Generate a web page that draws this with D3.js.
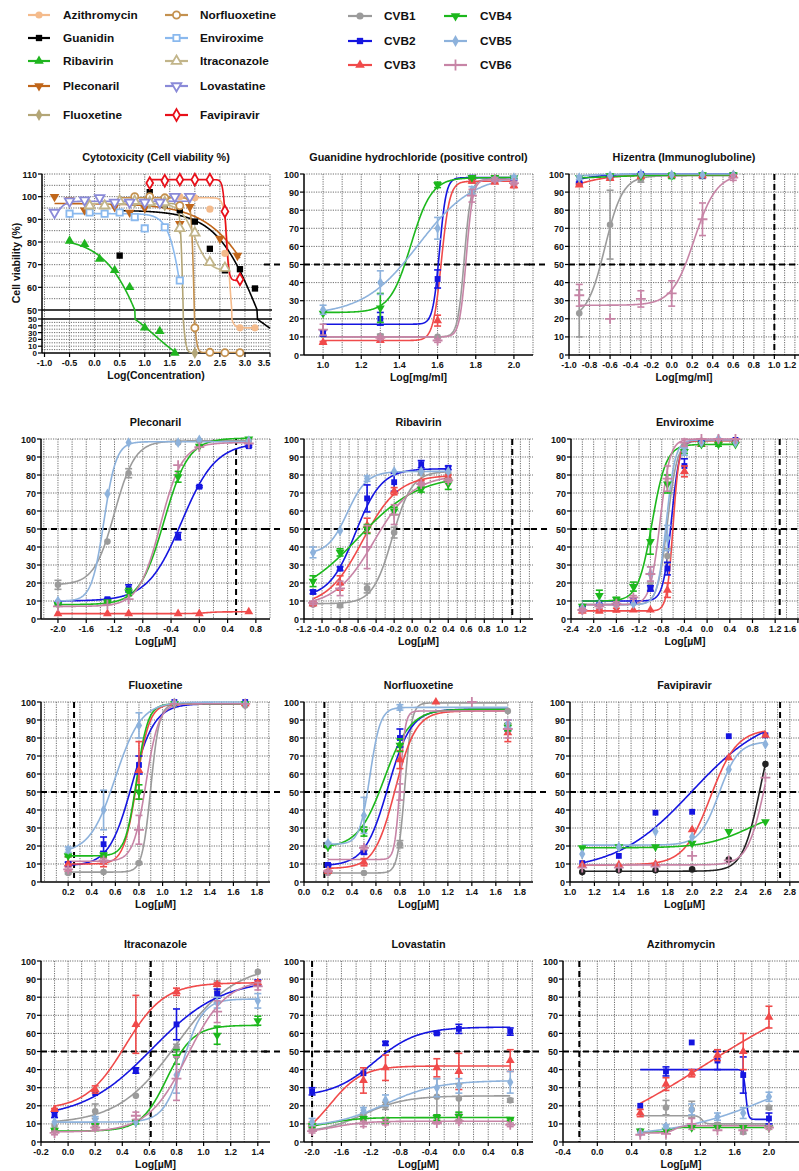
<!DOCTYPE html>
<html>
<head>
<meta charset="utf-8">
<title>Antiviral screening</title>
<script src="https://cdn.jsdelivr.net/npm/d3@7"></script>
<style>
  body { margin: 0; background: #fff; }
  svg text { font-family: "Liberation Sans", Arial, sans-serif; font-weight: bold; fill: #111; }
</style>
</head>
<body>
<svg id="chart" width="799" height="1171"></svg>
<script>
// ---------- series definitions ----------
const viruses = ["CVB1", "CVB2", "CVB3", "CVB4", "CVB5", "CVB6"];
const virusColors = ["#9b9b9b", "#1515e0", "#f04a4a", "#1cb81c", "#8db2dc", "#c784a6"];
const virusShapes = ["circle", "square", "triangle", "triangleDown", "diamond", "plus"];

const drugs = ["Azithromycin", "Guanidin", "Ribavirin", "Pleconaril", "Fluoxetine",
               "Norfluoxetine", "Enviroxime", "Itraconazole", "Lovastatine", "Favipiravir"];
const drugColors = ["#f4bb8c", "#000000", "#1fb51f", "#c0661a", "#b3a677",
                    "#c4914f", "#8ab9ee", "#c2b58a", "#8a8ad8", "#e8101a"];
const drugShapes = ["circle", "square", "triangle", "triangleDown", "diamond",
                    "circle", "square", "triangle", "triangleDown", "diamond"];
const drugHollow = [false, false, false, false, false, true, true, true, true, true];

// ---------- cytotoxicity panel (one series per drug) ----------
const cytoX = [
  [1.7, 2.0, 2.3, 2.6, 2.9, 3.2],
  [0.5, 1.1, 1.4, 1.7, 2.0, 2.3, 2.6, 2.9, 3.2],
  [-0.5, -0.2, 0.1, 0.4, 0.7, 1.0, 1.3, 1.6],
  [-0.8, -0.5, -0.2, 0.4, 0.7, 1.0, 1.7, 1.9, 2.5, 2.85],
  [0.8, 1.1, 1.4, 1.7, 2.0],
  [0.8, 1.1, 1.4, 1.7, 2.0, 2.3, 2.6, 2.9],
  [-0.5, -0.1, 0.2, 0.5, 0.8, 1.0, 1.4, 1.7],
  [-0.1, 0.2, 0.5, 0.8, 1.1, 1.4, 1.7, 2.0, 2.3, 2.6],
  [-0.8, -0.5, -0.2, 0.1, 0.4, 0.7, 1.0, 1.3, 1.6, 1.9],
  [1.1, 1.4, 1.7, 2.0, 2.3, 2.6, 2.9]
];
const cytoY = [
  [100, 99.5, 94.5, 75, 37, 37],
  [74, 102, 96.5, 94, 89, 77, 67.5, 68, 59.5],
  [80.5, 79, 72.5, 67.5, 60, 37, 32, 0],
  [100, 98.5, 94, 95.5, 93, 95, 88, 95.5, 81.5, 74],
  [97.5, 97, 96, 86, 0],
  [100, 100, 99.5, 96, 37, 1, 0.5, 0.5],
  [92.5, 93, 92.5, 93, 91, 86, 86.5, 63],
  [96, 96, 98, 98, 97.5, 97.5, 86, 84, 71, 68.5],
  [93, 98, 98.5, 99.5, 97.5, 97.5, 97.5, 97.5, 100, 100],
  [106, 107, 107.5, 107.5, 107.5, 93.5, 63.5]
];
// fit: [value at low x, value at high x, logEC50, hill slope]
const cytoFit = [
  [99.5, 37, 2.68, 10],
  [94, 0, 3.3, 1],
  [82, -30, 1.2, 1],
  [97, 0, 3.5, 0.8],
  [97, 0, 1.77, 15],
  [99.5, 0.5, 1.99, 15],
  [92.5, 0, 1.8, 3],
  [97, 67, 2.0, 3],
  [88, 98, -0.75, 5],
  [107.5, 63, 2.62, 15]
];
const cytoSpan = [[1.65, 3.2], [0.5, 3.5], [-0.5, 1.6], [-0.8, 2.9], [0.4, 2.0],
                  [0.5, 2.9], [-0.5, 1.7], [-0.2, 2.6], [-0.8, 1.9], [1.1, 2.9]];

// ---------- Guanidine hydrochloride ----------
const guanX = [1.0, 1.3, 1.6, 1.78, 1.9, 2.0];
const guanY = [
  [11, 10.5, 10, 90, 97, 97],
  [12, 20, 42, 98, 97.5, 97],
  [7, 8, 19, 96, 95.5, 93.5],
  [23, 26, 94, 98, 98, 98],
  [25, 40, 70, 91, 97, 98],
  [14, 9.5, 8, 88, 97, 95]
];
const guanErr = [
  [0, 1, 0, 0, 0, 0],
  [1.5, 3.5, 5, 1, 0.5, 0.5],
  [0.5, 0.5, 3, 1, 0.5, 1],
  [0, 8, 1.5, 0.5, 0.5, 0.5],
  [2.5, 6.5, 6, 2, 1, 1],
  [3, 1, 1, 3.5, 1, 1]
];
const guanFit = [[10, 97, 1.74, 25], [17, 98, 1.61, 25], [8, 96, 1.62, 20],
                 [23.5, 98, 1.46, 8], [22, 100, 1.5, 3], [10, 97, 1.75, 25]];

// ---------- Hizentra ----------
const hizX = [-0.9, -0.6, -0.3, 0.0, 0.3, 0.6];
const hizY = [
  [23, 72, 97, 99, 99, 99.5],
  [95, 98.5, 100, 99, 99, 99.5],
  [94, 97.5, 98.5, 99, 99, 99.5],
  [98, 99, 99, 99, 99.5, 99.5],
  [98, 99, 100, 99.5, 99.5, 99.5],
  [33, 20, 31, 34, 75, 98]
];
const hizErr = [
  [13, 19, 1.5, 0.5, 1.5, 0.5],
  [0.5, 0.5, 0.5, 0.5, 0.5, 0.5],
  [0.5, 0.5, 0.5, 0.5, 0.5, 0.5],
  [0, 0, 0, 1.5, 0, 0],
  [1, 0, 0, 0, 0, 0],
  [6, 0, 4.5, 7, 9, 1.5]
];
const hizFit = [[20, 99, -0.65, 5], [88, 100, -1.1, 2.5], [88, 99.5, -0.95, 2.5],
                [97.5, 99.5, -0.6, 2], [97, 100, -1.0, 3], [27.5, 100, 0.22, 4]];

// ---------- Pleconaril ----------
const plecX = [-2.0, -1.3, -1.0, -0.3, 0.0, 0.7];
const plecY = [
  [19, 43, 81, 98, 99, 99],
  [9, 11, 17, 46, 73.5, 96],
  [3, 3, 3, 3, 3, 4],
  [8, 9.5, 15, 79, 96, 100],
  [10, 69.5, 98, 98, 99.5, 99],
  [7, 8, 11, 85.5, 95.5, 97.5]
];
const plecErr = [
  [2.5, 0, 2.5, 0, 0, 0],
  [0.5, 0.5, 2, 2, 0.5, 0.5],
  [0, 0, 0, 0, 0, 0],
  [0.5, 0.5, 2, 3, 0.5, 0],
  [0, 0, 0, 0, 0, 0],
  [0, 0, 0, 0, 0, 0]
];
const plecFit = [[19, 99, -1.2, 3], [10, 98, -0.25, 1.8], [3, 4, 0.1, 5],
                 [8, 100.5, -0.5, 2.5], [10, 98.5, -1.35, 5], [7, 98, -0.55, 2.8]];

// ---------- Ribavirin ----------
const ribaX = [-1.1, -0.8, -0.5, -0.2, 0.1, 0.4];
const ribaY = [
  [8, 7.5, 17, 48, 81, 81],
  [15, 28, 67, 76, 86, 84],
  [8.5, 20, 52, 71, 76, 79],
  [21, 37, 50, 60, 72, 75],
  [37, 49, 78, 82, 82, 82],
  [9, 17, 40, 58, 75, 77]
];
const ribaErr = [
  [0.5, 1, 2.5, 3, 1, 0],
  [1, 1, 7.5, 5, 2, 1],
  [1, 4, 4, 2, 1, 1],
  [3, 2, 2.5, 2, 1.5, 3],
  [3, 0, 1.5, 0, 0, 0],
  [1, 4, 12, 5.5, 1, 1]
];
const ribaFit = [[8.5, 82, -0.22, 4], [12, 83.5, -0.63, 3], [7, 80, -0.55, 2.2],
                 [10, 80, -0.6, 1.3], [36, 82, -0.72, 4], [7, 80, -0.42, 2]];

// ---------- Enviroxime ----------
const enviX = [-2.2, -1.9, -1.6, -1.3, -1.0, -0.7, -0.4, -0.1, 0.2, 0.5];
const enviY = [
  [7, 8, 8, 9, 18, 35, 96, 99, 99, 99],
  [6, 9, 9, 10, 17, 28, 85, 98, 99, 99.5],
  [4.5, 4.5, 5, 5, 5, 16, 82, 97, 99, 99],
  [7, 13, 11, 18, 43, 75, 93, 97, 97, 97],
  [6, 8, 8, 8.5, 25, 45, 93, 98, 100, 98],
  [5, 7, 8.5, 12, 25, 78, 98, 100, 100, 100]
];
const enviErr = [
  [0, 0, 0, 0, 2, 4, 1, 0, 0, 0],
  [1, 1, 1, 1, 1.5, 3.5, 4, 0.5, 0, 0],
  [1, 1, 1, 0, 0, 4, 3, 0, 0, 0],
  [0, 3, 1, 2.5, 7, 5, 1, 1, 1, 0],
  [0, 0, 0, 0, 4, 7, 2, 0, 0, 0],
  [1, 1, 1, 1, 4, 7, 2, 0, 0, 0]
];
const enviFit = [[8, 99, -0.7, 5], [10, 99.5, -0.63, 6], [4.5, 99, -0.6, 8],
                 [10, 97, -0.97, 3.5], [8, 99.5, -0.72, 5.5], [8, 100, -0.83, 5]];

// ---------- Fluoxetine ----------
const fluoX = [0.2, 0.5, 0.8, 1.1, 1.7];
const fluoY = [
  [5, 5.5, 10.5, 99, 98],
  [10, 21, 65, 100, 100],
  [10, 11, 62, 99.5, 99],
  [14.5, 15, 50, 99, 99],
  [18, 40, 87, 99.5, 99],
  [7, 12, 29, 99, 99]
];
const fluoErr = [
  [0.5, 0, 0.5, 0, 0],
  [1, 4, 5, 0, 0],
  [4, 2.5, 16, 0, 0],
  [0.5, 1, 4, 0, 0],
  [1.5, 11, 7, 0, 0],
  [1, 1, 8, 0, 0]
];
const fluoFit = [[5.5, 99, 0.9, 12], [9, 99, 0.74, 4.5], [10, 99, 0.78, 8],
                 [14.5, 99, 0.78, 9], [16, 100, 0.6, 4], [11.5, 99, 0.86, 8]];

// ---------- Norfluoxetine ----------
const norfX = [0.2, 0.5, 0.8, 1.1, 1.4, 1.7];
const norfY = [
  [5, 5, 21, null, null, 95],
  [9.5, 16.5, 80, null, null, 87],
  [6, 11, 68, 100, null, 83],
  [19.5, 28, 76, null, null, 86],
  [21.5, 37, 97, null, null, 88],
  [6, 19, 50, null, 100, 85]
];
const norfErr = [
  [0, 0, 2, 0, 0, 0],
  [0.5, 1, 5, 0, 0, 3],
  [0.5, 2, 5, 0, 0, 5],
  [0.5, 2.5, 3.5, 0, 0, 2],
  [0.5, 10, 1.5, 0, 0, 2],
  [0.5, 1, 4.5, 0, 0, 5]
];
const norfFit = [[5, 99.5, 0.84, 15], [9, 96, 0.7, 4.5], [7.5, 95, 0.76, 5],
                 [19, 96, 0.67, 4], [21, 97, 0.55, 10], [12.5, 95, 0.8, 20]];

// ---------- Favipiravir ----------
const faviX = [1.1, 1.4, 1.7, 2.0, 2.3, 2.6];
const faviY = [
  [5.5, 6.5, 6.5, 7, 12.5, 65.5],
  [10.5, 14.5, 38.5, 39, 81, 81.5],
  [9.5, 9.5, 10, 29, 69, 81.5],
  [19, 19.5, 19.5, 21.5, 28, 33.5],
  [15.5, 19.5, 28, 25, 62.5, 76.5],
  [8, 8, 8.5, 14.5, 12, 58]
];
const faviFit = [[6, 100, 2.56, 6], [6, 95, 2.0, 1.4], [9.5, 85, 2.15, 4],
                 [19, 40, 2.45, 2.5], [20.5, 78, 2.22, 5.5], [9.5, 100, 2.6, 6]];

// ---------- Itraconazole ----------
const itraX = [-0.1, 0.2, 0.5, 0.8, 1.1, 1.4];
const itraY = [
  [9, 17, 25.5, 52, 83, 94],
  [15, 27, 39.5, 65, 82, 88],
  [18, 29, 65, 83, 87, 88],
  [6.5, 9, 11, 47, 59, 67],
  [11, 12.5, 11, 37, 77, 78],
  [5, 8, 14.5, 35, 72, 86]
];
const itraErr = [
  [0, 4, 0, 2, 6, 0],
  [1.5, 0, 1.5, 8.5, 2.5, 1.5],
  [0.5, 2, 16, 2, 1, 1],
  [0.5, 1, 1, 4, 5, 2.5],
  [0, 1.5, 0, 10, 3, 4],
  [1, 1, 2, 12, 6, 2]
];
const itraFit = [[10, 98, 0.8, 2], [13, 90, 0.62, 1.7], [18, 88, 0.42, 3],
                 [6, 64.5, 0.73, 4.5], [11, 79, 0.85, 6], [5.5, 90, 0.88, 3]];

// ---------- Lovastatin ----------
const lovaX = [-2.0, -1.3, -1.0, -0.3, 0.0, 0.7];
const lovaY = [
  [7, 15, 20, 25, 24, 23],
  [28, 38, 54.5, 60, 62.5, 61],
  [10, 34, 41, 41, 39, 45],
  [9, 13, 12, 13.5, 14, 12.5],
  [11, 17.5, 23, 30, 31, 33],
  [6, 10, 11, 10.5, 11.5, 9.5]
];
const lovaErr = [
  [1, 1, 2, 10, 8, 1],
  [2, 0, 1, 0.5, 2.5, 2],
  [1, 7, 7, 5, 10, 6],
  [1, 1, 1.5, 1.5, 2.5, 0.5],
  [2, 1.5, 3, 5, 4, 6],
  [1, 1.5, 1.5, 0.5, 1, 1]
];
const lovaFit = [[5, 25.5, -1.3, 1.5], [25, 63.5, -1.15, 1.5], [0, 42, -1.75, 2],
                 [7, 13.5, -1.8, 2], [8, 34, -1.0, 1.2], [5, 11.5, -1.7, 2]];

// ---------- Azithromycin ----------
const aziX = [0.5, 0.8, 1.1, 1.4, 1.7, 2.0];
const aziY = [
  [6, 19, 18, 9.5, 5.5, 19],
  [20, 39, 55, 45, 37, 13],
  [16, 32, 38, 48, 50, 69],
  [6, 6.5, 8, 8, 8, 8],
  [5, 8.5, 18, 14, 16, 25],
  [4, 4.5, 10, 6.5, 6.5, 8]
];
const aziErr = [
  [0, 4, 4.5, 1, 1, 1],
  [0, 2.5, 0, 5, 10, 3],
  [2, 3.5, 2, 3, 10, 6],
  [0, 0, 0, 0, 0, 0],
  [0, 1, 3, 2, 3, 2.5],
  [0, 0, 3, 0, 0, 1]
];
const aziFit = [[14.5, 10, 1.22, 20], [40, 12.5, 1.73, 30], [-9.5, 94.5, 1.25, 0.5],
                [5.5, 8, 0.85, 15], [3, 45, 2.0, 0.8], [5, 9, 0.9, 10]];

// ---------- layout ----------
const rows = [{top: 174, bottom: 355}, {top: 439, bottom: 619}, {top: 702, bottom: 882}, {top: 961, bottom: 1142}];
const cols = [[41, 270], [304, 533], [570, 799]];

const panels = [
  {title: "Guanidine hydrochloride (positive control)", row: 0, col: 1, domain: [0.9, 2.1], tick: [1.0, 2.0, 0.2], minor: 0.1,
   xLabel: "Log[mg/ml]", vline: null, x: guanX, y: guanY, err: guanErr, fit: guanFit},
  {title: "Hizentra (Immunogluboline)", row: 0, col: 2, range: [569, 799], domain: [-1.0, 1.24], tick: [-1.0, 1.2, 0.2], minor: 0.1,
   xLabel: "Log[mg/ml]", vline: 1.0, x: hizX, y: hizY, err: hizErr, fit: hizFit},
  {title: "Pleconaril", row: 1, col: 0, domain: [-2.24, 1.0], tick: [-2.0, 0.8, 0.4], minor: 0.2,
   xLabel: "Log[µM]", vline: 0.52, x: plecX, y: plecY, err: plecErr, fit: plecFit},
  {title: "Ribavirin", row: 1, col: 1, domain: [-1.2, 1.34], tick: [-1.2, 1.2, 0.2], minor: 0.1,
   xLabel: "Log[µM]", vline: 1.11, x: ribaX, y: ribaY, err: ribaErr, fit: ribaFit},
  {title: "Enviroxime", row: 1, col: 2, range: [571, 799], domain: [-2.4, 1.62], tick: [-2.4, 1.6, 0.4], minor: 0.2,
   xLabel: "Log[µM]", vline: 1.28, x: enviX, y: enviY, err: enviErr, fit: enviFit},
  {title: "Fluoxetine", row: 2, col: 0, domain: [-0.03, 1.91], tick: [0.2, 1.8, 0.2], minor: 0.1,
   xLabel: "Log[µM]", vline: 0.25, x: fluoX, y: fluoY, err: fluoErr, fit: fluoFit},
  {title: "Norfluoxetine", row: 2, col: 1, domain: [0, 1.91], tick: [0.0, 1.8, 0.2], minor: 0.1,
   xLabel: "Log[µM]", vline: 0.17, x: norfX, y: norfY, err: norfErr, fit: norfFit},
  {title: "Favipiravir", row: 2, col: 2, domain: [1.0, 2.875], tick: [1.0, 2.8, 0.2], minor: 0.1,
   xLabel: "Log[µM]", vline: 2.72, x: faviX, y: faviY, err: null, fit: faviFit, override: {0: "#222222"}},
  {title: "Itraconazole", row: 3, col: 0, domain: [-0.2, 1.49], tick: [-0.2, 1.4, 0.2], minor: 0.1,
   xLabel: "Log[µM]", vline: 0.61, x: itraX, y: itraY, err: itraErr, fit: itraFit},
  {title: "Lovastatin", row: 3, col: 1, domain: [-2.11, 1.01], tick: [-2.0, 0.8, 0.4], minor: 0.2,
   xLabel: "Log[µM]", vline: -2.0, x: lovaX, y: lovaY, err: lovaErr, fit: lovaFit},
  {title: "Azithromycin", row: 3, col: 2, range: [563, 799], domain: [-0.4, 2.35], tick: [-0.4, 2.0, 0.4], minor: 0.2,
   xLabel: "Log[µM]", vline: -0.21, x: aziX, y: aziY, err: aziErr, fit: aziFit}
];

// ---------- helpers ----------
const svg = d3.select("#chart");
const shapeMap = {
  circle: d3.symbolCircle, square: d3.symbolSquare, triangle: d3.symbolTriangle,
  triangleDown: d3.symbolTriangle, diamond: d3.symbolDiamond, plus: d3.symbolPlus || d3.symbolCross
};
function logistic(p, x) { return p[0] + (p[1] - p[0]) / (1 + Math.pow(10, (p[2] - x) * p[3])); }
function fmt(v) { return (Math.round(v * 10) / 10).toFixed(1); }
function stepRange(a, b, s) {
  const out = [];
  const k0 = Math.ceil(a / s - 1e-6), k1 = Math.floor(b / s + 1e-6);
  for (let k = k0; k <= k1; k++) out.push(+(k * s).toFixed(6));
  return out;
}
function marker(g, shape, px, py, color, hollow, size) {
  const path = g.append("path")
    .attr("d", d3.symbol().type(shapeMap[shape]).size(size || 30)())
    .attr("transform", "translate(" + px + "," + py + ")" + (shape === "triangleDown" ? " rotate(180)" : ""));
  if (shape === "plus") {
    path.attr("fill", "none").attr("stroke", color).attr("stroke-width", 1.8);
  } else if (hollow) {
    path.attr("fill", "#fff").attr("stroke", color).attr("stroke-width", 1.8);
  } else {
    path.attr("fill", color);
  }
}
function hline(g, x1, x2, yy, stroke, width, dash) {
  g.append("line").attr("x1", x1).attr("x2", x2).attr("y1", yy).attr("y2", yy)
    .attr("stroke", stroke).attr("stroke-width", width).attr("stroke-dasharray", dash || null);
}
function vline(g, xx, y1, y2, stroke, width, dash) {
  g.append("line").attr("x1", xx).attr("x2", xx).attr("y1", y1).attr("y2", y2)
    .attr("stroke", stroke).attr("stroke-width", width).attr("stroke-dasharray", dash || null);
}
function errorBar(g, px, y0, y1, color) {
  vline(g, px, y0, y1, color, 1.6);
  hline(g, px - 3.5, px + 3.5, y0, color, 1.6);
  hline(g, px - 3.5, px + 3.5, y1, color, 1.6);
}

// ---------- legend ----------
const legDrugY = [15, 38, 61, 86, 115];
drugs.forEach((d, i) => {
  const c = Math.floor(i / 5), r = i % 5;
  const lx = c === 0 ? [28, 50, 63] : [165, 188, 200];
  const yy = legDrugY[r];
  hline(svg, lx[0], lx[1], yy, drugColors[i], 2.2);
  marker(svg, drugShapes[i], (lx[0] + lx[1]) / 2, yy, drugColors[i], drugHollow[i], 40);
  svg.append("text").attr("x", lx[2]).attr("y", yy + 4).attr("font-size", 11.8).text(d);
});
viruses.forEach((v, i) => {
  const c = Math.floor(i / 3), r = i % 3;
  const lx = c === 0 ? [348, 372, 384] : [444, 467, 480];
  const yy = [16, 41, 65][r];
  hline(svg, lx[0], lx[1], yy, virusColors[i], 2.2);
  marker(svg, virusShapes[i], (lx[0] + lx[1]) / 2, yy, virusColors[i], false, 40);
  svg.append("text").attr("x", lx[2]).attr("y", yy + 4).attr("font-size", 11.8).text(v);
});

const gridColor = "#6e6e6e";
const gridDash = "1.2,1.2";

// ---------- cytotoxicity panel ----------
(function drawCyto() {
  const left = 42, right = 270, top = 174, bottom = 353;
  const x = d3.scaleLinear().domain([-1.05, 3.5]).range([left, right]);
  const yUp = d3.scaleLinear().domain([50, 110]).range([310, top]);
  const yLo = d3.scaleLinear().domain([0, 50]).range([bottom, 319]);
  const y = v => (v >= 50 ? yUp(v) : yLo(v));
  const g = svg.append("g");

  stepRange(-1.0, 3.5, 0.5).forEach(v => vline(g, x(v), top, bottom, gridColor, 1, gridDash));
  stepRange(55, 110, 5).forEach(v => hline(g, left, right, yUp(v), gridColor, 1, gridDash));
  stepRange(5, 45, 5).forEach(v => hline(g, left, right, yLo(v), gridColor, 1, gridDash));

  // axes and break lines
  vline(g, left, top, bottom, "#000", 1.5);
  hline(g, left, right + 2, 310, "#000", 1.5);
  hline(g, left, right + 2, 319, "#000", 1.5);
  hline(g, left, right, bottom, "#000", 1.5);
  stepRange(50, 110, 10).forEach(v => {
    hline(g, left - 4, left, yUp(v), "#000", 1.2);
    g.append("text").attr("x", left - 5).attr("y", yUp(v) + 3.5).attr("text-anchor", "end").attr("font-size", 9).text(v);
  });
  stepRange(0, 50, 10).forEach(v => {
    hline(g, left - 4, left, yLo(v), "#000", 1.2);
    g.append("text").attr("x", left - 5).attr("y", yLo(v) + 3).attr("text-anchor", "end").attr("font-size", 8).text(v);
  });
  stepRange(-1.0, 3.5, 0.5).forEach(v => {
    vline(g, x(v), bottom, bottom + 4, "#000", 1.2);
    g.append("text").attr("x", Math.min(x(v), 264)).attr("y", bottom + 13).attr("text-anchor", "middle").attr("font-size", 9).text(fmt(v));
  });
  g.append("text").attr("x", (left + right) / 2).attr("y", top - 13).attr("text-anchor", "middle")
    .attr("font-size", 10.8).text("Cytotoxicity (Cell viability %)");
  g.append("text").attr("x", (left + right) / 2).attr("y", bottom + 26).attr("text-anchor", "middle")
    .attr("font-size", 10.5).text("Log(Concentration)");
  g.append("text").attr("transform", "translate(20," + 263 + ") rotate(-90)").attr("text-anchor", "middle")
    .attr("font-size", 10.5).text("Cell viability (%)");

  svg.append("clipPath").attr("id", "clipCyto").append("rect")
    .attr("x", left).attr("y", top - 4).attr("width", right - left + 2).attr("height", bottom - top + 4);
  const cg = g.append("g").attr("clip-path", "url(#clipCyto)");
  const line = d3.line().x(d => x(d[0])).y(d => y(Math.max(d[1], -1)));
  cytoFit.forEach((f, i) => {
    const s = cytoSpan[i];
    const pts = d3.range(0, 301).map(k => {
      const xv = s[0] + (s[1] - s[0]) * k / 300;
      return [xv, logistic(f, xv)];
    });
    cg.append("path").attr("d", line(pts)).attr("fill", "none")
      .attr("stroke", drugColors[i]).attr("stroke-width", 1.6);
  });
  cytoX.forEach((xs, i) => {
    xs.forEach((xv, j) => marker(g, drugShapes[i], x(xv), y(cytoY[i][j]), drugColors[i], drugHollow[i], 40));
  });
})();

// ---------- virus panels ----------
panels.forEach((p, idx) => {
  const r = rows[p.row];
  const rng = p.range || cols[p.col];
  const left = rng[0], right = rng[1];
  const x = d3.scaleLinear().domain(p.domain).range(rng);
  const y = d3.scaleLinear().domain([0, 100]).range([r.bottom, r.top]);
  const g = svg.append("g");

  // grid
  stepRange(p.domain[0], p.domain[1], p.minor).forEach(v => {
    if (x(v) > left + 1) vline(g, x(v), r.top, r.bottom, gridColor, 1, gridDash);
  });
  stepRange(10, 100, 10).forEach(v => hline(g, left, right, y(v), gridColor, 1, gridDash));

  // reference lines
  if (p.col > 0) hline(g, left - 40, left - 20, y(50), "#000", 2, "6,4");
  hline(g, left, right, y(50), "#000", 2, "6,4");
  if (p.vline !== null) vline(g, x(p.vline), r.top, r.bottom, "#000", 2, "6,4");

  // axes
  vline(g, left, r.top, r.bottom, "#000", 1.5);
  hline(g, left, right, r.bottom, "#000", 1.5);
  stepRange(0, 100, 10).forEach(v => {
    hline(g, left - 4, left, y(v), "#000", 1.2);
    g.append("text").attr("x", left - 5).attr("y", y(v) + 3.5).attr("text-anchor", "end").attr("font-size", 9).text(v);
  });
  stepRange(p.tick[0], p.tick[1], p.tick[2]).forEach(v => {
    vline(g, x(v), r.bottom, r.bottom + 4, "#000", 1.2);
    g.append("text").attr("x", Math.min(x(v), 790)).attr("y", r.bottom + 13).attr("text-anchor", "middle")
      .attr("font-size", 9).text(fmt(v));
  });
  g.append("text").attr("x", (left + right) / 2).attr("y", r.top - 13).attr("text-anchor", "middle")
    .attr("font-size", 10.8).text(p.title);
  g.append("text").attr("x", (left + right) / 2).attr("y", r.bottom + 26).attr("text-anchor", "middle")
    .attr("font-size", 10.5).text(p.xLabel);

  // fitted curves
  const clipId = "clip" + idx;
  svg.append("clipPath").attr("id", clipId).append("rect")
    .attr("x", left).attr("y", r.top - 4).attr("width", right - left).attr("height", r.bottom - r.top + 4);
  const cg = g.append("g").attr("clip-path", "url(#" + clipId + ")");
  const line = d3.line().x(d => x(d[0])).y(d => y(d[1]));
  const x0 = d3.min(p.x), x1 = d3.max(p.x);
  const colorOf = i => (p.override && p.override[i]) || virusColors[i];
  p.fit.forEach((f, i) => {
    const pts = d3.range(0, 301).map(k => {
      const xv = x0 + (x1 - x0) * k / 300;
      return [xv, logistic(f, xv)];
    });
    cg.append("path").attr("d", line(pts)).attr("fill", "none")
      .attr("stroke", colorOf(i)).attr("stroke-width", 1.6);
  });

  // error bars and markers
  p.y.forEach((vals, i) => {
    vals.forEach((v, j) => {
      if (v === null) return;
      const e = p.err ? p.err[i][j] : 0;
      if (e > 0) errorBar(g, x(p.x[j]), y(v - e), y(Math.min(v + e, 101)), colorOf(i));
      marker(g, virusShapes[i], x(p.x[j]), y(v), colorOf(i), false, 34);
    });
  });
});
</script>
</body>
</html>
